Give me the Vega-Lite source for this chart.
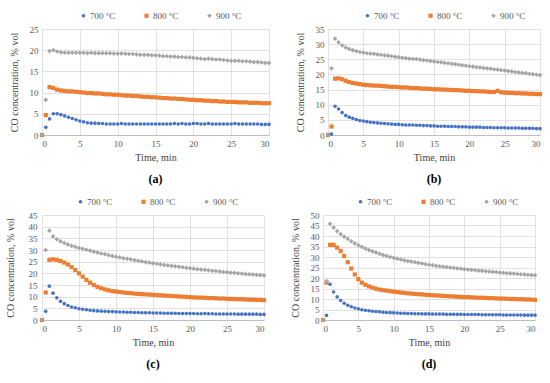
{
"$schema":"https://vega.github.io/schema/vega-lite/v6.json",
"padding":{"left":5,"top":11,"right":4,"bottom":2},
"datasets":{
"a":[
{"t":0,"700 °C":0,"800 °C":0,"900 °C":0},
{"t":0.5,"700 °C":1.8,"800 °C":4.7,"900 °C":8.3},
{"t":1,"700 °C":3.8,"800 °C":11.3,"900 °C":19.8},
{"t":1.5,"700 °C":5.0,"800 °C":11.1,"900 °C":20.0},
{"t":2,"700 °C":5.0,"800 °C":10.7,"900 °C":19.7},
{"t":2.5,"700 °C":4.8,"800 °C":10.5,"900 °C":19.5},
{"t":3,"700 °C":4.5,"800 °C":10.4,"900 °C":19.4},
{"t":3.5,"700 °C":4.2,"800 °C":10.3,"900 °C":19.4},
{"t":4,"700 °C":3.9,"800 °C":10.3,"900 °C":19.4},
{"t":4.5,"700 °C":3.6,"800 °C":10.2,"900 °C":19.4},
{"t":5,"700 °C":3.3,"800 °C":10.1,"900 °C":19.4},
{"t":5.5,"700 °C":3.1,"800 °C":10.0,"900 °C":19.4},
{"t":6,"700 °C":2.9,"800 °C":9.9,"900 °C":19.3},
{"t":6.5,"700 °C":2.8,"800 °C":9.9,"900 °C":19.4},
{"t":7,"700 °C":2.8,"800 °C":9.8,"900 °C":19.3},
{"t":7.5,"700 °C":2.7,"800 °C":9.8,"900 °C":19.3},
{"t":8,"700 °C":2.7,"800 °C":9.7,"900 °C":19.3},
{"t":8.5,"700 °C":2.6,"800 °C":9.6,"900 °C":19.3},
{"t":9,"700 °C":2.6,"800 °C":9.6,"900 °C":19.3},
{"t":9.5,"700 °C":2.6,"800 °C":9.5,"900 °C":19.2},
{"t":10,"700 °C":2.6,"800 °C":9.5,"900 °C":19.2},
{"t":10.5,"700 °C":2.7,"800 °C":9.4,"900 °C":19.2},
{"t":11,"700 °C":2.6,"800 °C":9.3,"900 °C":19.2},
{"t":11.5,"700 °C":2.6,"800 °C":9.3,"900 °C":19.1},
{"t":12,"700 °C":2.6,"800 °C":9.2,"900 °C":19.1},
{"t":12.5,"700 °C":2.6,"800 °C":9.2,"900 °C":19.0},
{"t":13,"700 °C":2.6,"800 °C":9.1,"900 °C":18.9},
{"t":13.5,"700 °C":2.6,"800 °C":9.0,"900 °C":18.9},
{"t":14,"700 °C":2.6,"800 °C":9.0,"900 °C":18.9},
{"t":14.5,"700 °C":2.6,"800 °C":8.9,"900 °C":18.8},
{"t":15,"700 °C":2.6,"800 °C":8.9,"900 °C":18.8},
{"t":15.5,"700 °C":2.6,"800 °C":8.8,"900 °C":18.7},
{"t":16,"700 °C":2.6,"800 °C":8.7,"900 °C":18.6},
{"t":16.5,"700 °C":2.6,"800 °C":8.7,"900 °C":18.6},
{"t":17,"700 °C":2.6,"800 °C":8.6,"900 °C":18.5},
{"t":17.5,"700 °C":2.7,"800 °C":8.6,"900 °C":18.5},
{"t":18,"700 °C":2.6,"800 °C":8.5,"900 °C":18.4},
{"t":18.5,"700 °C":2.7,"800 °C":8.5,"900 °C":18.4},
{"t":19,"700 °C":2.6,"800 °C":8.4,"900 °C":18.3},
{"t":19.5,"700 °C":2.6,"800 °C":8.3,"900 °C":18.3},
{"t":20,"700 °C":2.7,"800 °C":8.3,"900 °C":18.2},
{"t":20.5,"700 °C":2.7,"800 °C":8.2,"900 °C":18.1},
{"t":21,"700 °C":2.6,"800 °C":8.2,"900 °C":18.0},
{"t":21.5,"700 °C":2.6,"800 °C":8.1,"900 °C":17.9},
{"t":22,"700 °C":2.7,"800 °C":8.1,"900 °C":18.0},
{"t":22.5,"700 °C":2.6,"800 °C":8.0,"900 °C":17.9},
{"t":23,"700 °C":2.6,"800 °C":8.0,"900 °C":17.8},
{"t":23.5,"700 °C":2.6,"800 °C":7.9,"900 °C":17.8},
{"t":24,"700 °C":2.6,"800 °C":7.9,"900 °C":17.7},
{"t":24.5,"700 °C":2.6,"800 °C":7.8,"900 °C":17.6},
{"t":25,"700 °C":2.6,"800 °C":7.8,"900 °C":17.5},
{"t":25.5,"700 °C":2.7,"800 °C":7.8,"900 °C":17.5},
{"t":26,"700 °C":2.6,"800 °C":7.7,"900 °C":17.5},
{"t":26.5,"700 °C":2.6,"800 °C":7.7,"900 °C":17.4},
{"t":27,"700 °C":2.6,"800 °C":7.7,"900 °C":17.4},
{"t":27.5,"700 °C":2.6,"800 °C":7.6,"900 °C":17.3},
{"t":28,"700 °C":2.6,"800 °C":7.6,"900 °C":17.2},
{"t":28.5,"700 °C":2.6,"800 °C":7.6,"900 °C":17.2},
{"t":29,"700 °C":2.5,"800 °C":7.5,"900 °C":17.1},
{"t":29.5,"700 °C":2.5,"800 °C":7.5,"900 °C":17.0},
{"t":30,"700 °C":2.5,"800 °C":7.5,"900 °C":17.0}
],
"b":[
{"t":0,"700 °C":0,"800 °C":0,"900 °C":0},
{"t":0.5,"700 °C":0.3,"800 °C":2.8,"900 °C":22.0},
{"t":1,"700 °C":9.5,"800 °C":18.6,"900 °C":31.8},
{"t":1.5,"700 °C":8.6,"800 °C":18.7,"900 °C":30.6},
{"t":2,"700 °C":7.4,"800 °C":18.4,"900 °C":29.6},
{"t":2.5,"700 °C":6.4,"800 °C":17.9,"900 °C":28.9},
{"t":3,"700 °C":5.9,"800 °C":17.5,"900 °C":28.4},
{"t":3.5,"700 °C":5.5,"800 °C":17.2,"900 °C":28.0},
{"t":4,"700 °C":5.1,"800 °C":17.0,"900 °C":27.7},
{"t":4.5,"700 °C":4.8,"800 °C":16.8,"900 °C":27.4},
{"t":5,"700 °C":4.6,"800 °C":16.6,"900 °C":27.2},
{"t":5.5,"700 °C":4.4,"800 °C":16.5,"900 °C":27.0},
{"t":6,"700 °C":4.2,"800 °C":16.4,"900 °C":26.9},
{"t":6.5,"700 °C":4.1,"800 °C":16.3,"900 °C":26.8},
{"t":7,"700 °C":4.0,"800 °C":16.3,"900 °C":26.6},
{"t":7.5,"700 °C":3.9,"800 °C":16.2,"900 °C":26.5},
{"t":8,"700 °C":3.8,"800 °C":16.1,"900 °C":26.3},
{"t":8.5,"700 °C":3.7,"800 °C":16.0,"900 °C":26.2},
{"t":9,"700 °C":3.6,"800 °C":15.9,"900 °C":26.0},
{"t":9.5,"700 °C":3.5,"800 °C":15.9,"900 °C":25.8},
{"t":10,"700 °C":3.5,"800 °C":15.8,"900 °C":25.7},
{"t":10.5,"700 °C":3.4,"800 °C":15.7,"900 °C":25.5},
{"t":11,"700 °C":3.3,"800 °C":15.7,"900 °C":25.4},
{"t":11.5,"700 °C":3.3,"800 °C":15.6,"900 °C":25.2},
{"t":12,"700 °C":3.3,"800 °C":15.5,"900 °C":25.1},
{"t":12.5,"700 °C":3.2,"800 °C":15.5,"900 °C":25.1},
{"t":13,"700 °C":3.2,"800 °C":15.4,"900 °C":24.9},
{"t":13.5,"700 °C":3.1,"800 °C":15.3,"900 °C":24.7},
{"t":14,"700 °C":3.1,"800 °C":15.3,"900 °C":24.6},
{"t":14.5,"700 °C":3.0,"800 °C":15.2,"900 °C":24.4},
{"t":15,"700 °C":3.0,"800 °C":15.1,"900 °C":24.3},
{"t":15.5,"700 °C":2.9,"800 °C":15.1,"900 °C":24.1},
{"t":16,"700 °C":2.9,"800 °C":15.0,"900 °C":24.0},
{"t":16.5,"700 °C":2.9,"800 °C":15.0,"900 °C":23.8},
{"t":17,"700 °C":2.8,"800 °C":14.9,"900 °C":23.7},
{"t":17.5,"700 °C":2.8,"800 °C":14.9,"900 °C":23.5},
{"t":18,"700 °C":2.8,"800 °C":14.8,"900 °C":23.4},
{"t":18.5,"700 °C":2.7,"800 °C":14.8,"900 °C":23.2},
{"t":19,"700 °C":2.7,"800 °C":14.7,"900 °C":23.0},
{"t":19.5,"700 °C":2.7,"800 °C":14.6,"900 °C":22.9},
{"t":20,"700 °C":2.6,"800 °C":14.6,"900 °C":22.7},
{"t":20.5,"700 °C":2.6,"800 °C":14.5,"900 °C":22.6},
{"t":21,"700 °C":2.6,"800 °C":14.5,"900 °C":22.4},
{"t":21.5,"700 °C":2.6,"800 °C":14.4,"900 °C":22.3},
{"t":22,"700 °C":2.5,"800 °C":14.4,"900 °C":22.1},
{"t":22.5,"700 °C":2.5,"800 °C":14.3,"900 °C":22.0},
{"t":23,"700 °C":2.5,"800 °C":14.2,"900 °C":21.9},
{"t":23.5,"700 °C":2.4,"800 °C":14.2,"900 °C":21.7},
{"t":24,"700 °C":2.4,"800 °C":14.6,"900 °C":21.6},
{"t":24.5,"700 °C":2.4,"800 °C":14.1,"900 °C":21.4},
{"t":25,"700 °C":2.4,"800 °C":14.0,"900 °C":21.3},
{"t":25.5,"700 °C":2.3,"800 °C":13.9,"900 °C":21.1},
{"t":26,"700 °C":2.3,"800 °C":13.9,"900 °C":21.0},
{"t":26.5,"700 °C":2.3,"800 °C":13.8,"900 °C":20.8},
{"t":27,"700 °C":2.3,"800 °C":13.8,"900 °C":20.7},
{"t":27.5,"700 °C":2.2,"800 °C":13.7,"900 °C":20.5},
{"t":28,"700 °C":2.2,"800 °C":13.7,"900 °C":20.4},
{"t":28.5,"700 °C":2.2,"800 °C":13.6,"900 °C":20.2},
{"t":29,"700 °C":2.2,"800 °C":13.6,"900 °C":20.1},
{"t":29.5,"700 °C":2.1,"800 °C":13.5,"900 °C":19.9},
{"t":30,"700 °C":2.1,"800 °C":13.5,"900 °C":19.8}
],
"c":[
{"t":0,"700 °C":0,"800 °C":0,"900 °C":0},
{"t":0.5,"700 °C":3.7,"800 °C":11.8,"900 °C":30.0},
{"t":1,"700 °C":14.5,"800 °C":25.8,"900 °C":38.3},
{"t":1.5,"700 °C":11.5,"800 °C":26.0,"900 °C":35.8},
{"t":2,"700 °C":9.5,"800 °C":25.8,"900 °C":34.6},
{"t":2.5,"700 °C":8.0,"800 °C":25.3,"900 °C":33.7},
{"t":3,"700 °C":7.0,"800 °C":24.6,"900 °C":33.0},
{"t":3.5,"700 °C":6.2,"800 °C":23.8,"900 °C":32.4},
{"t":4,"700 °C":5.6,"800 °C":22.7,"900 °C":31.8},
{"t":4.5,"700 °C":5.2,"800 °C":21.4,"900 °C":31.3},
{"t":5,"700 °C":4.8,"800 °C":20.0,"900 °C":30.9},
{"t":5.5,"700 °C":4.6,"800 °C":18.6,"900 °C":30.5},
{"t":6,"700 °C":4.4,"800 °C":17.2,"900 °C":30.1},
{"t":6.5,"700 °C":4.2,"800 °C":16.0,"900 °C":29.7},
{"t":7,"700 °C":4.0,"800 °C":15.0,"900 °C":29.3},
{"t":7.5,"700 °C":3.9,"800 °C":14.2,"900 °C":28.9},
{"t":8,"700 °C":3.8,"800 °C":13.6,"900 °C":28.5},
{"t":8.5,"700 °C":3.7,"800 °C":13.1,"900 °C":28.2},
{"t":9,"700 °C":3.6,"800 °C":12.7,"900 °C":27.8},
{"t":9.5,"700 °C":3.6,"800 °C":12.4,"900 °C":27.4},
{"t":10,"700 °C":3.5,"800 °C":12.2,"900 °C":27.1},
{"t":10.5,"700 °C":3.4,"800 °C":12.0,"900 °C":26.8},
{"t":11,"700 °C":3.4,"800 °C":11.8,"900 °C":26.5},
{"t":11.5,"700 °C":3.3,"800 °C":11.6,"900 °C":26.2},
{"t":12,"700 °C":3.3,"800 °C":11.5,"900 °C":26.0},
{"t":12.5,"700 °C":3.2,"800 °C":11.3,"900 °C":25.7},
{"t":13,"700 °C":3.2,"800 °C":11.2,"900 °C":25.4},
{"t":13.5,"700 °C":3.1,"800 °C":11.1,"900 °C":25.1},
{"t":14,"700 °C":3.1,"800 °C":11.0,"900 °C":24.8},
{"t":14.5,"700 °C":3.1,"800 °C":10.9,"900 °C":24.6},
{"t":15,"700 °C":3.0,"800 °C":10.8,"900 °C":24.3},
{"t":15.5,"700 °C":3.0,"800 °C":10.7,"900 °C":24.1},
{"t":16,"700 °C":3.0,"800 °C":10.6,"900 °C":23.8},
{"t":16.5,"700 °C":2.9,"800 °C":10.5,"900 °C":23.6},
{"t":17,"700 °C":2.9,"800 °C":10.4,"900 °C":23.4},
{"t":17.5,"700 °C":2.9,"800 °C":10.3,"900 °C":23.2},
{"t":18,"700 °C":2.9,"800 °C":10.2,"900 °C":23.0},
{"t":18.5,"700 °C":2.8,"800 °C":10.1,"900 °C":22.8},
{"t":19,"700 °C":2.8,"800 °C":10.0,"900 °C":22.6},
{"t":19.5,"700 °C":2.8,"800 °C":9.9,"900 °C":22.4},
{"t":20,"700 °C":2.8,"800 °C":9.8,"900 °C":22.2},
{"t":20.5,"700 °C":2.8,"800 °C":9.7,"900 °C":22.0},
{"t":21,"700 °C":2.7,"800 °C":9.6,"900 °C":21.8},
{"t":21.5,"700 °C":2.7,"800 °C":9.6,"900 °C":21.6},
{"t":22,"700 °C":2.8,"800 °C":9.5,"900 °C":21.5},
{"t":22.5,"700 °C":2.7,"800 °C":9.4,"900 °C":21.3},
{"t":23,"700 °C":2.7,"800 °C":9.4,"900 °C":21.1},
{"t":23.5,"700 °C":2.6,"800 °C":9.3,"900 °C":21.0},
{"t":24,"700 °C":2.6,"800 °C":9.2,"900 °C":20.8},
{"t":24.5,"700 °C":2.6,"800 °C":9.2,"900 °C":20.6},
{"t":25,"700 °C":2.6,"800 °C":9.1,"900 °C":20.5},
{"t":25.5,"700 °C":2.6,"800 °C":9.0,"900 °C":20.3},
{"t":26,"700 °C":2.6,"800 °C":9.0,"900 °C":20.2},
{"t":26.5,"700 °C":2.5,"800 °C":8.9,"900 °C":20.0},
{"t":27,"700 °C":2.5,"800 °C":8.9,"900 °C":19.9},
{"t":27.5,"700 °C":2.5,"800 °C":8.8,"900 °C":19.7},
{"t":28,"700 °C":2.5,"800 °C":8.7,"900 °C":19.6},
{"t":28.5,"700 °C":2.5,"800 °C":8.7,"900 °C":19.5},
{"t":29,"700 °C":2.5,"800 °C":8.6,"900 °C":19.3},
{"t":29.5,"700 °C":2.4,"800 °C":8.6,"900 °C":19.2},
{"t":30,"700 °C":2.4,"800 °C":8.5,"900 °C":19.1}
],
"d":[
{"t":0,"700 °C":0,"800 °C":0,"900 °C":0},
{"t":0.5,"700 °C":2.2,"800 °C":17.8,"900 °C":18.5},
{"t":1,"700 °C":17.0,"800 °C":35.8,"900 °C":45.8},
{"t":1.5,"700 °C":13.3,"800 °C":35.8,"900 °C":44.0},
{"t":2,"700 °C":11.0,"800 °C":34.5,"900 °C":42.3},
{"t":2.5,"700 °C":9.3,"800 °C":32.8,"900 °C":40.9},
{"t":3,"700 °C":8.0,"800 °C":30.5,"900 °C":39.7},
{"t":3.5,"700 °C":7.0,"800 °C":27.5,"900 °C":38.6},
{"t":4,"700 °C":6.3,"800 °C":24.5,"900 °C":37.5},
{"t":4.5,"700 °C":5.7,"800 °C":21.7,"900 °C":36.5},
{"t":5,"700 °C":5.3,"800 °C":19.5,"900 °C":35.6},
{"t":5.5,"700 °C":4.9,"800 °C":17.8,"900 °C":34.8},
{"t":6,"700 °C":4.6,"800 °C":16.8,"900 °C":34.0},
{"t":6.5,"700 °C":4.4,"800 °C":16.0,"900 °C":33.3},
{"t":7,"700 °C":4.2,"800 °C":15.4,"900 °C":32.7},
{"t":7.5,"700 °C":4.0,"800 °C":14.9,"900 °C":32.1},
{"t":8,"700 °C":3.9,"800 °C":14.5,"900 °C":31.5},
{"t":8.5,"700 °C":3.7,"800 °C":14.2,"900 °C":31.0},
{"t":9,"700 °C":3.6,"800 °C":14.0,"900 °C":30.5},
{"t":9.5,"700 °C":3.5,"800 °C":13.7,"900 °C":30.0},
{"t":10,"700 °C":3.4,"800 °C":13.5,"900 °C":29.6},
{"t":10.5,"700 °C":3.3,"800 °C":13.3,"900 °C":29.2},
{"t":11,"700 °C":3.2,"800 °C":13.1,"900 °C":28.8},
{"t":11.5,"700 °C":3.2,"800 °C":12.9,"900 °C":28.4},
{"t":12,"700 °C":3.1,"800 °C":12.7,"900 °C":28.1},
{"t":12.5,"700 °C":3.1,"800 °C":12.6,"900 °C":27.8},
{"t":13,"700 °C":3.0,"800 °C":12.4,"900 °C":27.5},
{"t":13.5,"700 °C":3.0,"800 °C":12.3,"900 °C":27.2},
{"t":14,"700 °C":2.9,"800 °C":12.2,"900 °C":26.9},
{"t":14.5,"700 °C":2.9,"800 °C":12.0,"900 °C":26.6},
{"t":15,"700 °C":2.9,"800 °C":11.9,"900 °C":26.3},
{"t":15.5,"700 °C":2.8,"800 °C":11.8,"900 °C":26.1},
{"t":16,"700 °C":2.8,"800 °C":11.7,"900 °C":25.8},
{"t":16.5,"700 °C":2.8,"800 °C":11.6,"900 °C":25.6},
{"t":17,"700 °C":2.8,"800 °C":11.5,"900 °C":25.4},
{"t":17.5,"700 °C":2.7,"800 °C":11.4,"900 °C":25.2},
{"t":18,"700 °C":2.7,"800 °C":11.3,"900 °C":25.0},
{"t":18.5,"700 °C":2.7,"800 °C":11.2,"900 °C":24.8},
{"t":19,"700 °C":2.7,"800 °C":11.1,"900 °C":24.6},
{"t":19.5,"700 °C":2.7,"800 °C":11.0,"900 °C":24.4},
{"t":20,"700 °C":2.6,"800 °C":10.9,"900 °C":24.2},
{"t":20.5,"700 °C":2.6,"800 °C":10.9,"900 °C":24.0},
{"t":21,"700 °C":2.6,"800 °C":10.8,"900 °C":23.9},
{"t":21.5,"700 °C":2.6,"800 °C":10.7,"900 °C":23.7},
{"t":22,"700 °C":2.6,"800 °C":10.6,"900 °C":23.5},
{"t":22.5,"700 °C":2.5,"800 °C":10.6,"900 °C":23.4},
{"t":23,"700 °C":2.5,"800 °C":10.5,"900 °C":23.2},
{"t":23.5,"700 °C":2.5,"800 °C":10.4,"900 °C":23.1},
{"t":24,"700 °C":2.5,"800 °C":10.4,"900 °C":22.9},
{"t":24.5,"700 °C":2.5,"800 °C":10.3,"900 °C":22.8},
{"t":25,"700 °C":2.5,"800 °C":10.2,"900 °C":22.6},
{"t":25.5,"700 °C":2.4,"800 °C":10.2,"900 °C":22.5},
{"t":26,"700 °C":2.4,"800 °C":10.1,"900 °C":22.3},
{"t":26.5,"700 °C":2.4,"800 °C":10.0,"900 °C":22.2},
{"t":27,"700 °C":2.4,"800 °C":10.0,"900 °C":22.1},
{"t":27.5,"700 °C":2.4,"800 °C":9.9,"900 °C":21.9},
{"t":28,"700 °C":2.4,"800 °C":9.9,"900 °C":21.8},
{"t":28.5,"700 °C":2.3,"800 °C":9.8,"900 °C":21.7},
{"t":29,"700 °C":2.3,"800 °C":9.8,"900 °C":21.5},
{"t":29.5,"700 °C":2.3,"800 °C":9.7,"900 °C":21.4},
{"t":30,"700 °C":2.3,"800 °C":9.6,"900 °C":21.3}
]
},
"resolve":{"scale":{"x":"independent","y":"independent","color":"independent","shape":"independent","size":"independent"},"legend":{"color":"independent","shape":"independent","size":"independent"}},
"spacing":12,
"vconcat":[
{"hconcat":[
{"data":{"name":"a"},"width":227,"height":106,
 "transform":[{"fold":["700 °C","800 °C","900 °C"],"as":["Series","CO"]}],
 "title":{"text":"(a)"},
 "mark":{"type":"point","filled":true,"opacity":1},
 "encoding":{
  "x":{"field":"t","type":"quantitative","title":"Time, min","scale":{"domain":[0,30],"nice":false},"axis":{"values":[0,5,10,15,20,25,30]}},
  "y":{"field":"CO","type":"quantitative","title":"CO concentration, % vol","scale":{"domain":[0,25],"nice":false},"axis":{"values":[0,5,10,15,20,25]}},
  "color":{"field":"Series","type":"nominal","title":null,"scale":{"domain":["700 °C","800 °C","900 °C"],"range":["#4472C4","#ED7D31","#A5A5A5"]},"legend":{"orient":"none","legendX":37,"legendY":-18}},
  "shape":{"field":"Series","type":"nominal","title":null,"scale":{"domain":["700 °C","800 °C","900 °C"],"range":["circle","square","diamond"]}},
  "size":{"field":"Series","type":"ordinal","title":null,"scale":{"domain":["700 °C","800 °C","900 °C"],"range":[13,22,15]}}
 }},
{"data":{"name":"b"},"width":212,"height":106,
 "transform":[{"fold":["700 °C","800 °C","900 °C"],"as":["Series","CO"]}],
 "title":{"text":"(b)"},
 "mark":{"type":"point","filled":true,"opacity":1},
 "encoding":{
  "x":{"field":"t","type":"quantitative","title":"Time, min","scale":{"domain":[0,30],"nice":false},"axis":{"values":[0,5,10,15,20,25,30]}},
  "y":{"field":"CO","type":"quantitative","title":"CO concentration, % vol","scale":{"domain":[0,35],"nice":false},"axis":{"values":[0,5,10,15,20,25,30,35]}},
  "color":{"field":"Series","type":"nominal","title":null,"scale":{"domain":["700 °C","800 °C","900 °C"],"range":["#4472C4","#ED7D31","#A5A5A5"]},"legend":{"orient":"none","legendX":35,"legendY":-18}},
  "shape":{"field":"Series","type":"nominal","title":null,"scale":{"domain":["700 °C","800 °C","900 °C"],"range":["circle","square","diamond"]}},
  "size":{"field":"Series","type":"ordinal","title":null,"scale":{"domain":["700 °C","800 °C","900 °C"],"range":[13,22,15]}}
 }}
],"resolve":{"scale":{"x":"independent","y":"independent","color":"independent","shape":"independent","size":"independent"},"legend":{"color":"independent","shape":"independent","size":"independent"}},"spacing":23},
{"hconcat":[
{"data":{"name":"c"},"width":222,"height":105,
 "transform":[{"fold":["700 °C","800 °C","900 °C"],"as":["Series","CO"]}],
 "title":{"text":"(c)"},
 "mark":{"type":"point","filled":true,"opacity":1},
 "encoding":{
  "x":{"field":"t","type":"quantitative","title":"Time, min","scale":{"domain":[0,30],"nice":false},"axis":{"values":[0,5,10,15,20,25,30]}},
  "y":{"field":"CO","type":"quantitative","title":"CO concentration, % vol","scale":{"domain":[0,45],"nice":false},"axis":{"values":[0,5,10,15,20,25,30,35,40,45],"titlePadding":13,"labelPadding":5}},
  "color":{"field":"Series","type":"nominal","title":null,"scale":{"domain":["700 °C","800 °C","900 °C"],"range":["#4472C4","#ED7D31","#A5A5A5"]},"legend":{"orient":"none","legendX":34,"legendY":-18}},
  "shape":{"field":"Series","type":"nominal","title":null,"scale":{"domain":["700 °C","800 °C","900 °C"],"range":["circle","square","diamond"]}},
  "size":{"field":"Series","type":"ordinal","title":null,"scale":{"domain":["700 °C","800 °C","900 °C"],"range":[13,22,15]}}
 }},
{"data":{"name":"d"},"width":212,"height":105,
 "transform":[{"fold":["700 °C","800 °C","900 °C"],"as":["Series","CO"]}],
 "title":{"text":"(d)"},
 "mark":{"type":"point","filled":true,"opacity":1},
 "encoding":{
  "x":{"field":"t","type":"quantitative","title":"Time, min","scale":{"domain":[0,30],"nice":false},"axis":{"values":[0,5,10,15,20,25,30]}},
  "y":{"field":"CO","type":"quantitative","title":"CO concentration, % vol","scale":{"domain":[0,50],"nice":false},"axis":{"values":[0,5,10,15,20,25,30,35,40,45,50]}},
  "color":{"field":"Series","type":"nominal","title":null,"scale":{"domain":["700 °C","800 °C","900 °C"],"range":["#4472C4","#ED7D31","#A5A5A5"]},"legend":{"orient":"none","legendX":33,"legendY":-18}},
  "shape":{"field":"Series","type":"nominal","title":null,"scale":{"domain":["700 °C","800 °C","900 °C"],"range":["circle","square","diamond"]}},
  "size":{"field":"Series","type":"ordinal","title":null,"scale":{"domain":["700 °C","800 °C","900 °C"],"range":[13,22,15]}}
 }}
],"resolve":{"scale":{"x":"independent","y":"independent","color":"independent","shape":"independent","size":"independent"},"legend":{"color":"independent","shape":"independent","size":"independent"}},"spacing":23}
],
"config":{
 "font":"Liberation Serif",
 "view":{"stroke":null},
 "axis":{"labelFont":"Liberation Serif","titleFont":"Liberation Serif","labelFontSize":9,"titleFontSize":10,"titleFontWeight":"normal","labelColor":"#595959","titleColor":"#404040","gridColor":"#D9D9D9","gridWidth":0.8,"ticks":false,"domain":false},
 "axisX":{"domain":true,"domainColor":"#BFBFBF","labelPadding":4,"titlePadding":4,"titleFontWeight":"normal"},
 "axisY":{"labelPadding":4,"titlePadding":10},
 "legend":{"direction":"horizontal","labelFont":"Liberation Serif","labelFontSize":9,"labelColor":"#595959","columnPadding":26,"symbolOffset":0,"labelOffset":2},
 "title":{"orient":"bottom","font":"Liberation Serif","fontSize":12,"fontWeight":"bold","color":"#000000","offset":12}
}
}
